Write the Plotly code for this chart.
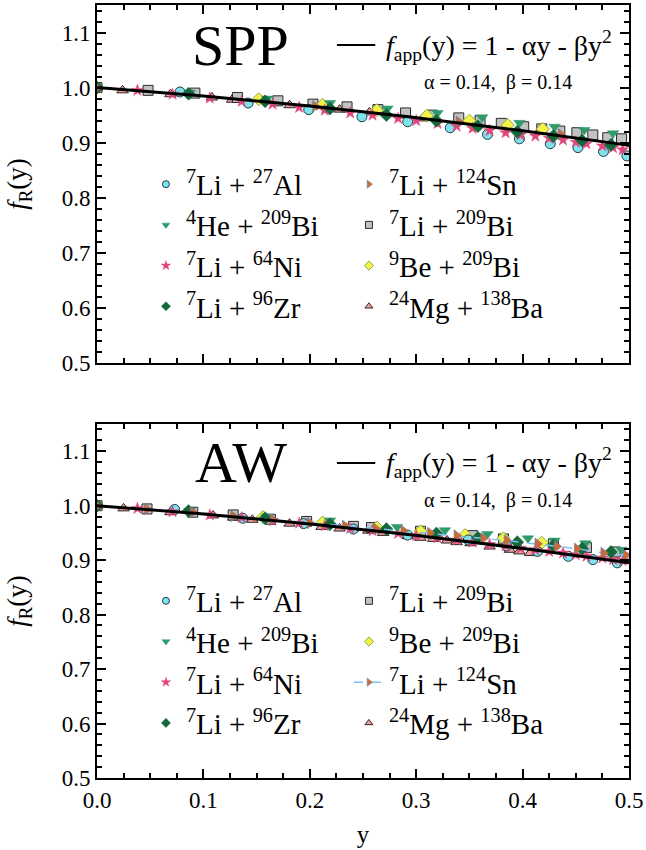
import plotly.graph_objects as go

# ---------------- data: f_R(y) for each system ----------------
# SPP panel
spp_al_y = [0, 0.078, 0.142, 0.199, 0.249, 0.292, 0.332, 0.367, 0.397, 0.426, 0.452, 0.476, 0.498]
spp_al_f = [1.0, 0.992, 0.972, 0.960, 0.947, 0.938, 0.927, 0.915, 0.907, 0.898, 0.891, 0.884, 0.876]

spp_he_y = [0, 0.087, 0.16, 0.219, 0.273, 0.32, 0.362, 0.397, 0.43, 0.458, 0.485]
spp_he_f = [1.0, 0.991, 0.980, 0.972, 0.962, 0.954, 0.946, 0.936, 0.929, 0.923, 0.917]

spp_ni_y = [0, 0.038, 0.071, 0.106, 0.136, 0.165, 0.19, 0.214, 0.238, 0.259, 0.283, 0.30, 0.32,
            0.338, 0.353, 0.369, 0.384, 0.398, 0.412, 0.425, 0.438, 0.45, 0.46, 0.475, 0.485, 0.494]
spp_ni_f = [1.0, 0.995, 0.988, 0.981, 0.975, 0.970, 0.964, 0.959, 0.954, 0.950, 0.944, 0.940, 0.935,
            0.930, 0.926, 0.922, 0.918, 0.914, 0.912, 0.908, 0.905, 0.901, 0.898, 0.894, 0.891, 0.887]

spp_zr_y = [0, 0.086, 0.158, 0.219, 0.272, 0.319, 0.358, 0.395, 0.429, 0.456, 0.483]
spp_zr_f = [1.0, 0.989, 0.975, 0.962, 0.950, 0.940, 0.930, 0.920, 0.912, 0.904, 0.896]

spp_sn_y = [0, 0.205, 0.34, 0.436]
spp_sn_f = [1.0, 0.966, 0.938, 0.915]

spp_bi_y = [0, 0.048, 0.092, 0.132, 0.17, 0.203, 0.235, 0.264, 0.29, 0.315, 0.34, 0.36, 0.38,
            0.401, 0.418, 0.435, 0.451, 0.466, 0.48, 0.493]
spp_bi_f = [1.0, 0.995, 0.990, 0.982, 0.976, 0.970, 0.965, 0.960, 0.954, 0.950, 0.945, 0.940, 0.935,
            0.929, 0.925, 0.921, 0.918, 0.914, 0.909, 0.907]

spp_be_y = [0, 0.152, 0.212, 0.263, 0.31, 0.35, 0.386, 0.419]
spp_be_f = [1.0, 0.979, 0.969, 0.959, 0.949, 0.940, 0.932, 0.925]

spp_mg_y = [0, 0.024, 0.069, 0.108, 0.127, 0.181, 0.228, 0.256, 0.306]
spp_mg_f = [1.0, 0.995, 0.988, 0.982, 0.978, 0.968, 0.960, 0.955, 0.944]

# AW panel
aw_al_y = [0, 0.073, 0.137, 0.194, 0.241, 0.292, 0.349, 0.385, 0.414, 0.443, 0.466, 0.489]
aw_al_f = [1.0, 0.993, 0.977, 0.967, 0.957, 0.946, 0.937, 0.926, 0.916, 0.907, 0.901, 0.895]

aw_he_y = [0, 0.087, 0.16, 0.219, 0.282, 0.327, 0.367, 0.405, 0.43, 0.459, 0.493]
aw_he_f = [1.0, 0.991, 0.980, 0.973, 0.961, 0.955, 0.948, 0.940, 0.936, 0.931, 0.919]

aw_ni_y = [0, 0.038, 0.071, 0.106, 0.136, 0.165, 0.19, 0.214, 0.238, 0.259, 0.283, 0.30, 0.32,
           0.338, 0.353, 0.369, 0.384, 0.398, 0.412, 0.425, 0.438, 0.45, 0.46, 0.475, 0.485, 0.494]
aw_ni_f = [1.0, 0.995, 0.989, 0.983, 0.978, 0.973, 0.968, 0.963, 0.958, 0.954, 0.949, 0.945, 0.941,
           0.937, 0.933, 0.929, 0.926, 0.922, 0.919, 0.916, 0.913, 0.910, 0.907, 0.904, 0.901, 0.899]

aw_zr_y = [0, 0.086, 0.158, 0.219, 0.272, 0.319, 0.358, 0.395, 0.429, 0.456, 0.483]
aw_zr_f = [1.0, 0.990, 0.977, 0.966, 0.957, 0.949, 0.941, 0.933, 0.927, 0.921, 0.915]

aw_bi_y = [0, 0.047, 0.09, 0.128, 0.163, 0.197, 0.241, 0.258, 0.304, 0.353, 0.382, 0.429, 0.46, 0.487]
aw_bi_f = [1.0, 0.994, 0.988, 0.983, 0.975, 0.971, 0.962, 0.960, 0.953, 0.945, 0.939, 0.930, 0.923, 0.915]

aw_be_y = [0, 0.156, 0.212, 0.263, 0.304, 0.346, 0.382, 0.418]
aw_be_f = [1.0, 0.979, 0.969, 0.960, 0.953, 0.946, 0.940, 0.932]

aw_sn_y = [0, 0.047, 0.09, 0.128, 0.165, 0.2, 0.233, 0.262, 0.288, 0.313, 0.338, 0.363, 0.385,
           0.414, 0.432, 0.451, 0.476, 0.497]
aw_sn_f = [1.0, 0.994, 0.988, 0.981, 0.974, 0.968, 0.963, 0.958, 0.954, 0.950, 0.945, 0.940, 0.936,
           0.930, 0.925, 0.921, 0.913, 0.909]

aw_mg_y = [0, 0.025, 0.069, 0.109, 0.128, 0.146, 0.181, 0.211, 0.228, 0.255, 0.269, 0.292, 0.304,
           0.316, 0.329, 0.338, 0.351, 0.369, 0.388, 0.397, 0.407]
aw_mg_f = [1.0, 0.995, 0.988, 0.982, 0.978, 0.974, 0.967, 0.961, 0.958, 0.954, 0.950, 0.944, 0.941,
           0.939, 0.936, 0.933, 0.931, 0.925, 0.919, 0.916, 0.913]

# Approximation f_app(y) = 1 - alpha*y - beta*y^2
ALPHA = 0.14
BETA = 0.14

x_ticks = [0.0, 0.1, 0.2, 0.3, 0.4, 0.5]
y_ticks = [0.5, 0.6, 0.7, 0.8, 0.9, 1.0, 1.1]

SERIF = "Liberation Serif"

# ---------------- styles per system ----------------
STYLE = {
    "al": dict(name="<sup>7</sup>Li + <sup>27</sup>Al", symbol="circle", color="#7fe3ee", edge="#1e3b40", ew=1),
    "he": dict(name="<sup>4</sup>He + <sup>209</sup>Bi", symbol="triangle-down", color="#2f9a6b", edge="#2f9a6b", ew=0.5),
    "ni": dict(name="<sup>7</sup>Li + <sup>64</sup>Ni", symbol="star", color="#e0457c", edge="#e0457c", ew=0.5),
    "zr": dict(name="<sup>7</sup>Li + <sup>96</sup>Zr", symbol="diamond", color="#13673a", edge="#13673a", ew=0.5),
    "sn": dict(name="<sup>7</sup>Li + <sup>124</sup>Sn", symbol="triangle-right", color="#d0692f", edge="#5a7fb0", ew=0.6),
    "bi": dict(name="<sup>7</sup>Li + <sup>209</sup>Bi", symbol="square", color="#c2c2c2", edge="#2a2a2a", ew=1),
    "be": dict(name="<sup>9</sup>Be + <sup>209</sup>Bi", symbol="diamond", color="#f2f24a", edge="#8ea84a", ew=1),
    "mg": dict(name="<sup>24</sup>Mg + <sup>138</sup>Ba", symbol="triangle-up", color="#f59a9a", edge="#2a2a2a", ew=1),
}

fig = go.Figure()


def add_series(key, xs, ys, xa, ya, size=10, line=None):
    s = STYLE[key]
    mode = "markers" if line is None else "lines+markers"
    fig.add_trace(go.Scatter(
        x=xs, y=ys, mode=mode, xaxis=xa, yaxis=ya, showlegend=False,
        line=line,
        marker=dict(symbol=s["symbol"], size=size, color=s["color"],
                    line=dict(color=s["edge"], width=s["ew"])),
    ))


def add_legend_entry(key, legend, line=None):
    s = STYLE[key]
    mode = "markers" if line is None else "lines+markers"
    fig.add_trace(go.Scatter(
        x=[None], y=[None], mode=mode, name=s["name"], legend=legend,
        line=line,
        marker=dict(symbol=s["symbol"], size=7, color=s["color"],
                    line=dict(color=s["edge"], width=s["ew"])),
    ))


# top panel (SPP)
add_series("mg", spp_mg_y, spp_mg_f, "x", "y")
add_series("bi", spp_bi_y, spp_bi_f, "x", "y")
add_series("be", spp_be_y, spp_be_f, "x", "y")
add_series("al", spp_al_y, spp_al_f, "x", "y")
add_series("ni", spp_ni_y, spp_ni_f, "x", "y", size=9)
add_series("he", spp_he_y, spp_he_f, "x", "y")
add_series("zr", spp_zr_y, spp_zr_f, "x", "y")
add_series("sn", spp_sn_y, spp_sn_f, "x", "y")

# bottom panel (AW)
sn_line = dict(color="#7fbff5", width=1.5, dash="dash")
add_series("mg", aw_mg_y, aw_mg_f, "x2", "y2")
add_series("bi", aw_bi_y, aw_bi_f, "x2", "y2")
add_series("be", aw_be_y, aw_be_f, "x2", "y2")
add_series("al", aw_al_y, aw_al_f, "x2", "y2")
add_series("ni", aw_ni_y, aw_ni_f, "x2", "y2", size=9)
add_series("he", aw_he_y, aw_he_f, "x2", "y2")
add_series("zr", aw_zr_y, aw_zr_f, "x2", "y2")
add_series("sn", aw_sn_y, aw_sn_f, "x2", "y2", line=sn_line)

# approximation curve in both panels
yy = [i * 0.005 for i in range(101)]
ff = [1.0 - ALPHA * v - BETA * v * v for v in yy]
for xa, ya in (("x", "y"), ("x2", "y2")):
    fig.add_trace(go.Scatter(x=yy, y=ff, mode="lines", xaxis=xa, yaxis=ya,
                             showlegend=False, line=dict(color="black", width=3)))

# legend entries (row-major order, two columns)
for k in ["al", "sn", "he", "bi", "ni", "be", "zr", "mg"]:
    add_legend_entry(k, "legend")
for k in ["al", "bi", "he", "be", "ni", "sn", "zr", "mg"]:
    add_legend_entry(k, "legend2", line=sn_line if k == "sn" else None)

# ---------------- axes ----------------
def xaxis_cfg(show_labels, anchor):
    return dict(
        range=[0, 0.5], tickvals=x_ticks, tickformat=".1f", showticklabels=show_labels,
        showline=True, linecolor="black", linewidth=2, mirror="allticks",
        ticks="inside", ticklen=9, tickwidth=2, tickcolor="black",
        minor=dict(ticks="inside", ticklen=5, tickwidth=1.5, tickcolor="black", dtick=0.025),
        showgrid=False, zeroline=False, anchor=anchor,
        tickfont=dict(family=SERIF, size=23, color="black"),
    )


def yaxis_cfg(domain, anchor):
    return dict(
        range=[0.5, 1.15], tickvals=y_ticks, tickformat=".1f", domain=domain,
        showline=True, linecolor="black", linewidth=2, mirror="allticks",
        ticks="inside", ticklen=9, tickwidth=2, tickcolor="black",
        minor=dict(ticks="inside", ticklen=5, tickwidth=1.5, tickcolor="black", dtick=0.02),
        showgrid=False, zeroline=False, anchor=anchor,
        tickfont=dict(family=SERIF, size=23, color="black"),
        title=dict(text="<i>f</i><sub>R</sub>(y)", font=dict(family=SERIF, size=27, color="black"),
                   standoff=27),
    )


xa_top = xaxis_cfg(False, "y")
xa_bot = xaxis_cfg(True, "y2")
xa_bot["title"] = dict(text="y", font=dict(family=SERIF, size=25, color="black"), standoff=14)

legend_common = dict(
    orientation="h", xanchor="left", yanchor="top", bgcolor="rgba(0,0,0,0)",
    font=dict(family=SERIF, size=29, color="black"), entrywidth=158,
    tracegroupgap=0, itemclick=False,
)

fig.update_layout(
    template="none",
    width=646, height=850,
    margin=dict(l=97, r=17, t=5, b=72),
    font=dict(family=SERIF, color="black"),
    plot_bgcolor="white", paper_bgcolor="white",
    xaxis=xa_top, xaxis2=xa_bot,
    yaxis=yaxis_cfg([0.537, 1.0], "x"),
    yaxis2=yaxis_cfg([0.0, 0.458], "x2"),
    legend=dict(x=0.092, y=0.801, **legend_common),
    legend2=dict(x=0.092, y=0.262, **legend_common),
    showlegend=True,
)

# panel labels, formula labels and the sample line of the approximation
for xd, yd, label, ly in (("x domain", "y domain", "SPP", 0.888), ("x2 domain", "y2 domain", "AW", 0.89)):
    fig.add_annotation(xref=xd, yref=yd, x=0.27, y=ly, text=label, showarrow=False,
                       font=dict(family=SERIF, size=58, color="black"), xanchor="center", yanchor="middle")
    fig.add_shape(type="line", xref=xd, yref=yd, x0=0.451, x1=0.523, y0=ly, y1=ly,
                  line=dict(color="black", width=2))
    fig.add_annotation(xref=xd, yref=yd, x=0.54, y=ly,
                       text="<i>f</i><sub>app</sub>(y) = 1 - αy - βy<sup>2</sup>",
                       showarrow=False, xanchor="left", yanchor="middle",
                       font=dict(family=SERIF, size=28, color="black"))
    fig.add_annotation(xref=xd, yref=yd, x=0.754, y=ly - 0.105,
                       text=f"α = {ALPHA:.2f},  β = {BETA:.2f}",
                       showarrow=False, xanchor="center", yanchor="middle",
                       font=dict(family=SERIF, size=20, color="black"))

fig.write_html("out.html")
